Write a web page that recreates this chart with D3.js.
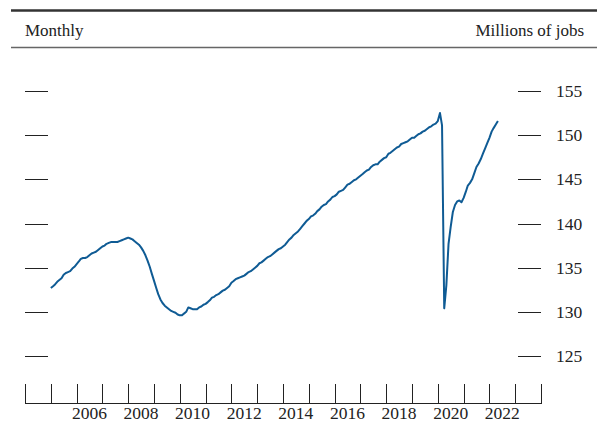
<!DOCTYPE html>
<html>
<head>
<meta charset="utf-8">
<script src="https://cdn.jsdelivr.net/npm/d3@7"></script>
<style>
  body { margin: 0; background: #fff; }
  svg { display: block; }
  text { font-family: "Liberation Serif", "Times New Roman", serif; fill: #222; }
</style>
</head>
<body>
<div id="chart"></div>
<script>
// payroll employment, millions, monthly Jan 2005 .. May 2022
const startYear = 2005;
const jobs2005 = [132.7, 132.9, 133.1, 133.4, 133.6, 133.8, 134.2, 134.4, 134.5, 134.6, 134.9, 135.1];
const jobs2006 = [135.4, 135.7, 136.0, 136.1, 136.1, 136.2, 136.4, 136.6, 136.7, 136.8, 137.0, 137.2];
const jobs2007 = [137.4, 137.5, 137.7, 137.8, 137.9, 137.9, 137.9, 137.9, 138.0, 138.1, 138.2, 138.3];
const jobs2008 = [138.4, 138.3, 138.2, 138.0, 137.8, 137.6, 137.3, 136.9, 136.4, 135.8, 135.1, 134.3];
const jobs2009 = [133.5, 132.7, 132.0, 131.4, 131.0, 130.7, 130.5, 130.3, 130.1, 130.0, 129.9, 129.7];
const jobs2010 = [129.6, 129.6, 129.8, 130.0, 130.5, 130.4, 130.3, 130.3, 130.3, 130.5, 130.6, 130.8];
const jobs2011 = [130.9, 131.1, 131.3, 131.6, 131.7, 131.9, 132.0, 132.2, 132.4, 132.5, 132.7, 132.9];
const jobs2012 = [133.3, 133.5, 133.7, 133.8, 133.9, 134.0, 134.1, 134.3, 134.5, 134.6, 134.8, 135.0];
const jobs2013 = [135.2, 135.5, 135.6, 135.8, 136.0, 136.2, 136.3, 136.5, 136.7, 136.9, 137.1, 137.2];
const jobs2014 = [137.4, 137.6, 137.9, 138.2, 138.4, 138.7, 138.9, 139.1, 139.4, 139.7, 140.0, 140.3];
const jobs2015 = [140.5, 140.8, 140.9, 141.1, 141.4, 141.6, 141.9, 142.1, 142.2, 142.5, 142.7, 143.0];
const jobs2016 = [143.1, 143.3, 143.6, 143.7, 143.8, 144.1, 144.4, 144.5, 144.7, 144.9, 145.0, 145.2];
const jobs2017 = [145.4, 145.6, 145.8, 146.0, 146.1, 146.4, 146.6, 146.7, 146.7, 147.0, 147.2, 147.4];
const jobs2018 = [147.5, 147.9, 148.0, 148.2, 148.4, 148.6, 148.7, 149.0, 149.1, 149.2, 149.3, 149.5];
const jobs2019 = [149.7, 149.7, 149.9, 150.1, 150.2, 150.4, 150.5, 150.7, 150.9, 151.0, 151.2, 151.3];
const jobs2020 = [151.6, 152.5, 151.1, 130.4, 133.0, 137.7, 139.6, 141.3, 142.1, 142.5, 142.6, 142.4];
const jobs2021 = [142.9, 143.6, 144.3, 144.6, 145.0, 145.7, 146.4, 146.8, 147.3, 147.9, 148.5, 149.1];
const jobs2022 = [149.7, 150.4, 150.8, 151.2, 151.6];

const yTicks = [125, 130, 135, 140, 145, 150, 155];
const yearLabels = [2006, 2008, 2010, 2012, 2014, 2016, 2018, 2020, 2022];
const tickYears = d3.range(2004, 2025);

const allJobs = [jobs2005, jobs2006, jobs2007, jobs2008, jobs2009, jobs2010, jobs2011, jobs2012,
  jobs2013, jobs2014, jobs2015, jobs2016, jobs2017, jobs2018, jobs2019, jobs2020, jobs2021, jobs2022];

const data = [];
allJobs.forEach((arr, i) => {
  arr.forEach((v, m) => data.push({ date: new Date(startYear + i, m, 1), value: v }));
});

const W = 597, H = 423;
const svg = d3.select('#chart').append('svg').attr('width', W).attr('height', H);

const x = d3.scaleTime()
  .domain([new Date(2004, 0, 1), new Date(2024, 0, 1)])
  .range([25, 541]);
const y = d3.scaleLinear().domain([125, 155]).range([356, 91]);

// header rules and captions
svg.append('line').attr('x1', 11).attr('x2', W).attr('y1', 10.5).attr('y2', 10.5)
  .attr('stroke', '#333').attr('stroke-width', 2.5);
svg.append('line').attr('x1', 11).attr('x2', W).attr('y1', 47.5).attr('y2', 47.5)
  .attr('stroke', '#666').attr('stroke-width', 1.3);
svg.append('text').attr('x', 25).attr('y', 36).style('font-size', '17px').text('Monthly');
svg.append('text').attr('x', 584).attr('y', 36).attr('text-anchor', 'end')
  .style('font-size', '17px').text('Millions of jobs');

// y ticks: short dashes on both sides, labels on the right
const yg = svg.append('g');
yg.selectAll('line.l').data(yTicks).enter().append('line')
  .attr('x1', 25).attr('x2', 48)
  .attr('y1', (d) => Math.round(y(d)) + 0.5).attr('y2', (d) => Math.round(y(d)) + 0.5)
  .attr('stroke', '#222');
yg.selectAll('line.r').data(yTicks).enter().append('line')
  .attr('x1', 518).attr('x2', 541)
  .attr('y1', (d) => Math.round(y(d)) + 0.5).attr('y2', (d) => Math.round(y(d)) + 0.5)
  .attr('stroke', '#222');
yg.selectAll('text').data(yTicks).enter().append('text')
  .attr('x', 556).attr('y', (d) => y(d)).attr('dy', '0.35em')
  .style('font-size', '17.5px').text((d) => d);

// x axis: ticks at each year start, labels centred in the year
const xg = svg.append('g');
xg.append('line').attr('x1', 25).attr('x2', 541).attr('y1', 403.5).attr('y2', 403.5)
  .attr('stroke', '#222');
xg.selectAll('line.t').data(tickYears).enter().append('line')
  .attr('x1', (d) => Math.round(x(new Date(d, 0, 1))) + 0.5)
  .attr('x2', (d) => Math.round(x(new Date(d, 0, 1))) + 0.5)
  .attr('y1', 384).attr('y2', 404)
  .attr('stroke', '#222');
xg.selectAll('text').data(yearLabels).enter().append('text')
  .attr('x', (d) => x(new Date(d, 6, 1)))
  .attr('y', 419).attr('text-anchor', 'middle')
  .style('font-size', '17.5px').text((d) => d);

const line = d3.line().x((d) => x(d.date)).y((d) => y(d.value));
svg.append('path').datum(data)
  .attr('d', line)
  .attr('fill', 'none')
  .attr('stroke', '#0f5b94')
  .attr('stroke-width', 2)
  .attr('stroke-linejoin', 'round');
</script>
</body>
</html>
